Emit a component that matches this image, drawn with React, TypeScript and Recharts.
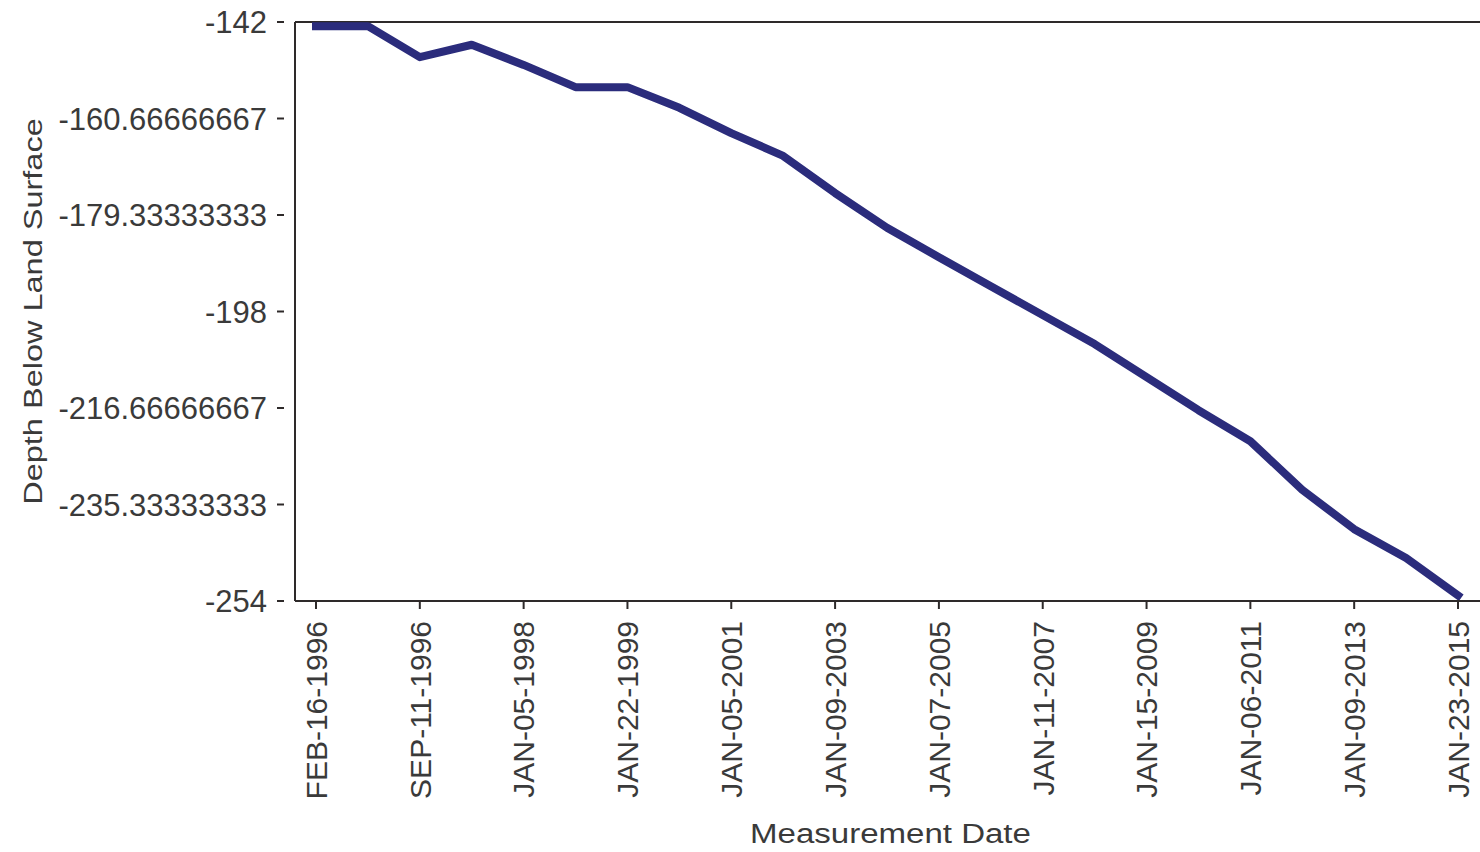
import React from "react";
import { LineChart, Line, XAxis, YAxis, ReferenceLine, Label } from "recharts";

const dates: string[] = [
  "FEB-16-1996",
  "MAY-14-1996",
  "SEP-11-1996",
  "JAN-08-1997",
  "JAN-05-1998",
  "JUL-14-1998",
  "JAN-22-1999",
  "JAN-11-2000",
  "JAN-05-2001",
  "JAN-10-2002",
  "JAN-09-2003",
  "JAN-13-2004",
  "JAN-07-2005",
  "JAN-10-2006",
  "JAN-11-2007",
  "JAN-08-2008",
  "JAN-15-2009",
  "JAN-12-2010",
  "JAN-06-2011",
  "JAN-10-2012",
  "JAN-09-2013",
  "JAN-14-2014",
  "JAN-23-2015",
];

const depths: number[] = [
  -142.8, -142.8, -148.8, -146.4, -150.3, -154.6, -154.6, -158.6, -163.5,
  -167.9, -175.1, -181.8, -187.5, -193.1, -198.7, -204.3, -210.7, -217.1,
  -223.1, -232.5, -240.1, -245.7, -252.9,
];

const yTicks: number[] = [
  -142, -160.66666667, -179.33333333, -198, -216.66666667, -235.33333333, -254,
];

const data = dates.map((d, i) => ({ date: d, depth: depths[i] }));

const FONT = "'Liberation Sans', Arial, sans-serif";
const TEXT = "#3a3a3a";
const AXIS = "#2e2a2a";
const LINE = "#2b2c7c";

const YTick = (props: any) => {
  const { x, y, payload } = props;
  return (
    <g>
      <line x1={x + 10} x2={x + 17} y1={y} y2={y} stroke={AXIS} strokeWidth={2} />
      <text
        x={x}
        y={y}
        dy="0.36em"
        textAnchor="end"
        fontSize={31}
        fontFamily={FONT}
        fill={TEXT}
      >
        {String(payload.value)}
      </text>
    </g>
  );
};

const XTick = (props: any) => {
  const { x, y, payload } = props;
  return (
    <text
      transform={`translate(${x},${y}) rotate(-90)`}
      x={0}
      y={0}
      dy="0.36em"
      textAnchor="end"
      fontSize={30}
      fontFamily={FONT}
      fill={TEXT}
    >
      {payload.value}
    </text>
  );
};

const XTitle = (props: any) => {
  const vb = props.viewBox || { x: 295, y: 601, width: 1185, height: 251 };
  const cx = vb.x + vb.width / 2 + 3;
  const cy = vb.y + 242;
  return (
    <text
      transform={`translate(${cx},${cy}) scale(1.18,1)`}
      x={0}
      y={0}
      textAnchor="middle"
      fontSize={28}
      fontFamily={FONT}
      fill={TEXT}
    >
      Measurement Date
    </text>
  );
};

const YTitle = (props: any) => {
  const vb = props.viewBox || { x: 0, y: 22, width: 295, height: 579 };
  const cy = vb.y + vb.height / 2;
  return (
    <text
      transform={`translate(42,${cy}) rotate(-90) scale(1.3,1)`}
      x={0}
      y={0}
      textAnchor="middle"
      fontSize={25}
      fontFamily={FONT}
      fill={TEXT}
    >
      Depth Below Land Surface
    </text>
  );
};

export default function App() {
  return (
    <div style={{ position: "absolute", left: 0, top: 0, width: 1480, height: 852, background: "#fff" }}>
      <LineChart
        width={1480}
        height={852}
        data={data}
        margin={{ top: 22, right: 0, bottom: 0, left: 0 }}
      >
        <XAxis
          dataKey="date"
          interval={1}
          padding={{ left: 21, right: 22 }}
          height={251}
          tickSize={8}
          tickMargin={12}
          tick={<XTick />}
          axisLine={{ stroke: AXIS, strokeWidth: 2 }}
          tickLine={{ stroke: AXIS, strokeWidth: 2 }}
        >
          <Label content={<XTitle />} />
        </XAxis>
        <YAxis
          type="number"
          domain={[-254, -142]}
          ticks={yTicks}
          interval={0}
          width={295}
          tickSize={0}
          tickMargin={28}
          tickLine={false}
          tick={<YTick />}
          axisLine={{ stroke: AXIS, strokeWidth: 2 }}
          allowDataOverflow
        >
          <Label content={<YTitle />} />
        </YAxis>
        <ReferenceLine y={-142} stroke={AXIS} strokeWidth={2} />
        <Line
          type="linear"
          dataKey="depth"
          stroke={LINE}
          strokeWidth={8}
          strokeLinejoin="round"
          strokeLinecap="square"
          dot={false}
          isAnimationActive={false}
        />
      </LineChart>
    </div>
  );
}
